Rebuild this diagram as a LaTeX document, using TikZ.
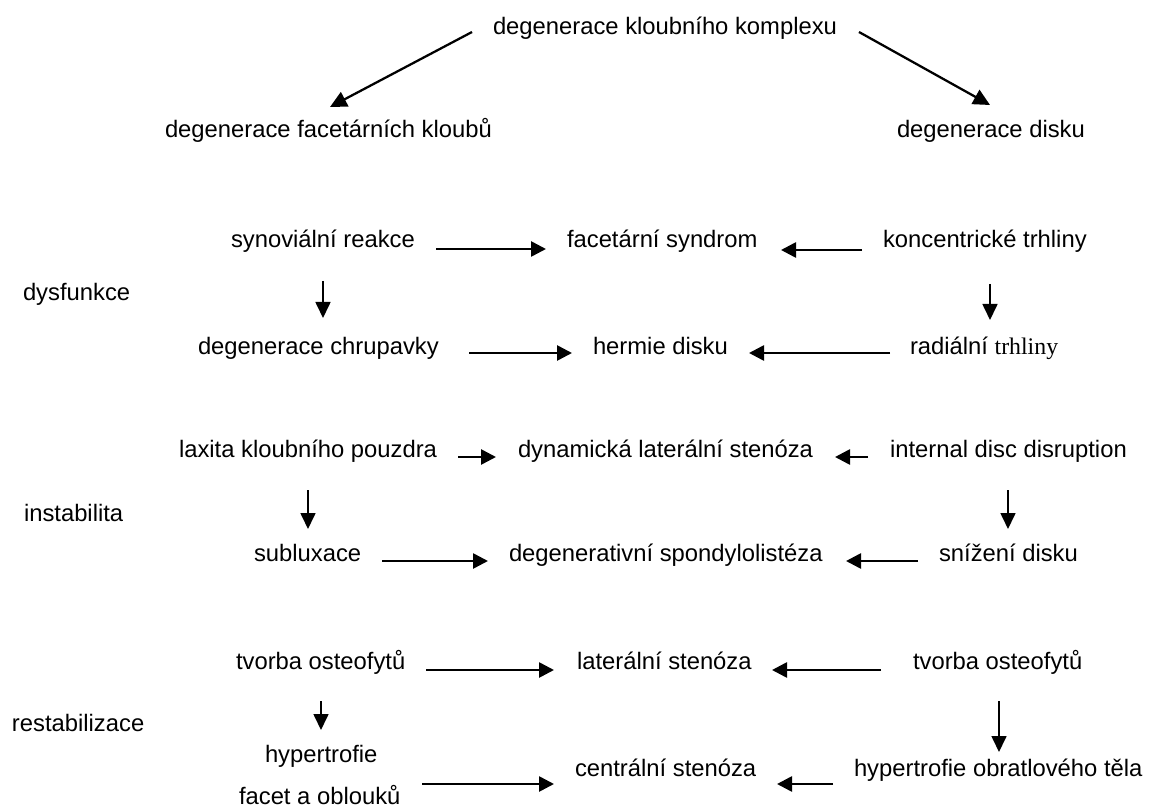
\documentclass[tikz,border=0pt]{standalone}
\usepackage{fontspec}
\setmainfont{Liberation Sans}
\newfontfamily\timesf{Liberation Serif}
\usetikzlibrary{arrows.meta}
\tikzset{
  lbl/.style={anchor=base west, inner sep=0pt, outer sep=0pt, font=\fontsize{17.85}{21}\selectfont},
  harr/.style={-{Triangle[length=11.25pt,width=11.25pt]}, line width=2pt},
  varr/.style={-{Triangle[length=12pt,width=11.25pt]}, line width=1.25pt},
  darr/.style={-{Triangle[length=12.5pt,width=12pt]}, line width=1.7pt}
}
\begin{document}
\begin{tikzpicture}[x=0.75pt,y=-0.75pt]
\useasboundingbox (0,0) rectangle (1150,809);
\fill[white] (0,0) rectangle (1150,809);

% nodes
\node[lbl] (top) at (493,35) {degenerace kloubního komplexu};
\node[lbl] (dfk) at (165,138) {degenerace facetárních kloubů};
\node[lbl] (dd) at (897,138) {degenerace disku};

\node[lbl] (dys) at (23,301) {dysfunkce};
\node[lbl] (sr) at (231,248) {synoviální reakce};
\node[lbl] (fs) at (567,248) {facetární syndrom};
\node[lbl] (kt) at (883,248) {koncentrické trhliny};
\node[lbl] (dch) at (198,355) {degenerace chrupavky};
\node[lbl] (hd) at (593,355) {hermie disku};
\node[lbl] (rt) at (910,355) {radiální {\timesf trhliny}};

\node[lbl] (ins) at (24,521) {instabilita};
\node[lbl] (lkp) at (179,457) {laxita kloubního pouzdra};
\node[lbl] (dls) at (518,457) {dynamická laterální stenóza};
\node[lbl] (idd) at (890,457) {internal disc disruption};
\node[lbl] (sub) at (254,561) {subluxace};
\node[lbl] (dsp) at (509,561) {degenerativní spondylolistéza};
\node[lbl] (snd) at (939,561) {snížení disku};

\node[lbl] (rst) at (12,731) {restabilizace};
\node[lbl] (toL) at (236,669) {tvorba osteofytů};
\node[lbl] (ls) at (577,669) {laterální stenóza};
\node[lbl] (toR) at (913,669) {tvorba osteofytů};
\node[lbl] (hyp) at (265,762) {hypertrofie};
\node[lbl] (fao) at (239,804) {facet a oblouků};
\node[lbl] (cs) at (575,776) {centrální stenóza};
\node[lbl] (hot) at (854,776) {hypertrofie obratlového těla};

% arrow end points
\coordinate (a1s) at (472,32);  \coordinate (a1e) at (330,107);
\coordinate (a2s) at (859,32);  \coordinate (a2e) at (990,105);
\coordinate (a3s) at (436,249); \coordinate (a3e) at (546,249);
\coordinate (a4s) at (862,250); \coordinate (a4e) at (781,250);
\coordinate (a5s) at (323,281); \coordinate (a5e) at (323,318);
\coordinate (a6s) at (990,284); \coordinate (a6e) at (990,320);
\coordinate (a7s) at (469,353); \coordinate (a7e) at (572,353);
\coordinate (a8s) at (890,353); \coordinate (a8e) at (749,353);
\coordinate (a9s) at (458,457); \coordinate (a9e) at (496,457);
\coordinate (a10s) at (868,457); \coordinate (a10e) at (835,457);
\coordinate (a11s) at (308,490); \coordinate (a11e) at (308,529);
\coordinate (a12s) at (1008,490); \coordinate (a12e) at (1008,529);
\coordinate (a13s) at (382,561); \coordinate (a13e) at (488,561);
\coordinate (a14s) at (918,561); \coordinate (a14e) at (846,561);
\coordinate (a15s) at (426,670); \coordinate (a15e) at (554,670);
\coordinate (a16s) at (881,670); \coordinate (a16e) at (772,670);
\coordinate (a17s) at (321,701); \coordinate (a17e) at (321,730);
\coordinate (a18s) at (999,701); \coordinate (a18e) at (999,752);
\coordinate (a19s) at (422,784); \coordinate (a19e) at (554,784);
\coordinate (a20s) at (833,784); \coordinate (a20e) at (777,784);

% connectors
\draw[darr] (a1s) -- (a1e);
\draw[darr] (a2s) -- (a2e);
\draw[harr] (a3s) -- (a3e);
\draw[harr] (a4s) -- (a4e);
\draw[varr] (a5s) -- (a5e);
\draw[varr] (a6s) -- (a6e);
\draw[harr] (a7s) -- (a7e);
\draw[harr] (a8s) -- (a8e);
\draw[harr] (a9s) -- (a9e);
\draw[harr] (a10s) -- (a10e);
\draw[varr] (a11s) -- (a11e);
\draw[varr] (a12s) -- (a12e);
\draw[harr] (a13s) -- (a13e);
\draw[harr] (a14s) -- (a14e);
\draw[harr] (a15s) -- (a15e);
\draw[harr] (a16s) -- (a16e);
\draw[varr] (a17s) -- (a17e);
\draw[varr] (a18s) -- (a18e);
\draw[harr] (a19s) -- (a19e);
\draw[harr] (a20s) -- (a20e);
\end{tikzpicture}
\end{document}
